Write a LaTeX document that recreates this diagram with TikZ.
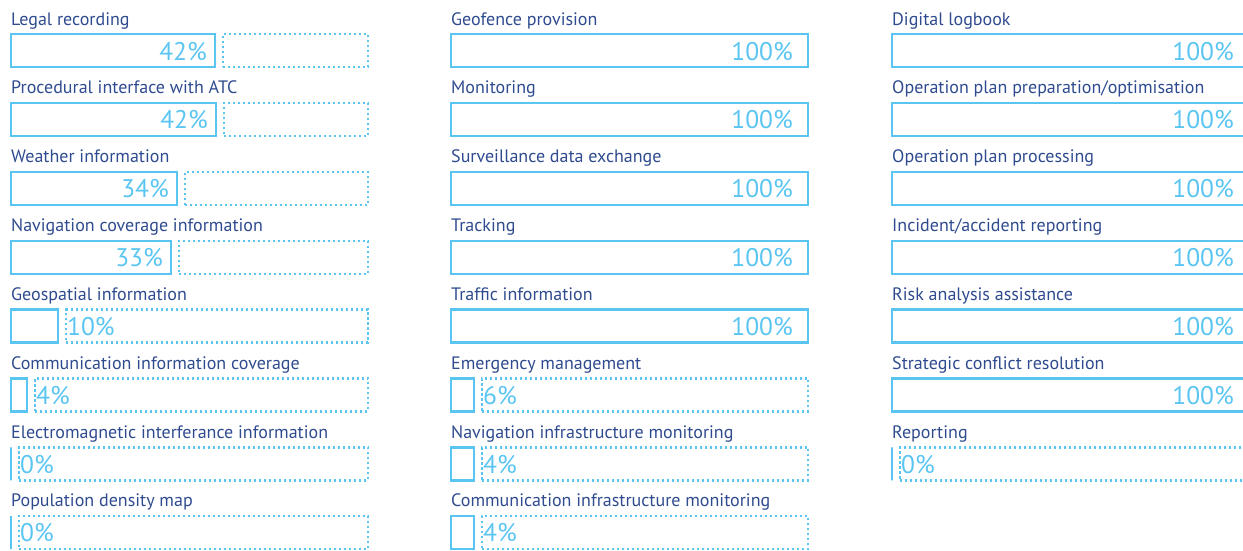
\documentclass[tikz,border=0pt]{standalone}
\usepackage{fontspec}
\setmainfont{PT Sans}
\usetikzlibrary{positioning}

\definecolor{barblue}{HTML}{5BC5F2}
\definecolor{capblue}{HTML}{2F4B8F}

\tikzset{
	solidbar/.style={draw=barblue, line width=2.4pt, inner sep=0pt, minimum height=33pt, anchor=north west},
	dotbar/.style={solidbar, dash pattern=on 2.2pt off 2.8pt},
	caption/.style={text=capblue, font=\fontsize{18}{20}\selectfont, anchor=base west, inner sep=0pt},
	pct/.style={text=barblue, font=\fontsize{25.5}{28}\selectfont, inner sep=0pt},
}

% name, column x, row, solid width, caption, percent
\newcommand{\pctbar}[6]{
	\node[caption] (#1-cap) at ({#2+1}, {25+68.85*#3}) {#5};
	\node[solidbar, minimum width=#4pt] (#1-bar) at (#2, {33+68.85*#3}) {};
	\ifdim #4pt<357pt
		\node[dotbar, minimum width=349pt-#4pt] (#1-rest) at ({#2+#4+8}, {33+68.85*#3}) {};
		\ifdim #4pt>100pt
			\node[pct, anchor=base east] (#1-pct) at ({#2+#4-7}, {60+68.85*#3}) {#6\%};
		\else
			\node[pct, anchor=base west] (#1-pct) at ({#2+#4+10}, {60+68.85*#3}) {#6\%};
		\fi
	\else
		\node[pct, anchor=base east] (#1-pct) at ({#2+#4-14}, {60+68.85*#3}) {#6\%};
	\fi
}

\begin{document}
\begin{tikzpicture}[x=1pt, y=-1pt]
	\useasboundingbox (0,0) rectangle (1243,550);

	% left column
	\pctbar{legal}{10}{0}{204}{Legal recording}{42}
	\pctbar{procatc}{10}{1}{205}{Procedural interface with ATC}{42}
	\pctbar{weather}{10}{2}{166}{Weather information}{34}
	\pctbar{navcov}{10}{3}{160}{Navigation coverage information}{33}
	\pctbar{geo}{10}{4}{47}{Geospatial information}{10}
	\pctbar{comcov}{10}{5}{16}{Communication information coverage}{4}
	\pctbar{emi}{10}{6}{0}{Electromagnetic interferance information}{0}
	\pctbar{popmap}{10}{7}{0}{Population density map}{0}

	% middle column
	\pctbar{geofence}{450}{0}{357}{Geofence provision}{100}
	\pctbar{monitor}{450}{1}{357}{Monitoring}{100}
	\pctbar{survdata}{450}{2}{357}{Surveillance data exchange}{100}
	\pctbar{tracking}{450}{3}{357}{Tracking}{100}
	\pctbar{traffic}{450}{4}{357}{Traffic information}{100}
	\pctbar{emergency}{450}{5}{23}{Emergency management}{6}
	\pctbar{navinfra}{450}{6}{23}{Navigation infrastructure monitoring}{4}
	\pctbar{cominfra}{450}{7}{23}{Communication infrastructure monitoring}{4}

	% right column
	\pctbar{logbook}{891}{0}{357}{Digital logbook}{100}
	\pctbar{planprep}{891}{1}{357}{Operation plan preparation/optimisation}{100}
	\pctbar{planproc}{891}{2}{357}{Operation plan processing}{100}
	\pctbar{incident}{891}{3}{357}{Incident/accident reporting}{100}
	\pctbar{risk}{891}{4}{357}{Risk analysis assistance}{100}
	\pctbar{conflict}{891}{5}{357}{Strategic conflict resolution}{100}
	\pctbar{reporting}{891}{6}{0}{Reporting}{0}
\end{tikzpicture}
\end{document}
